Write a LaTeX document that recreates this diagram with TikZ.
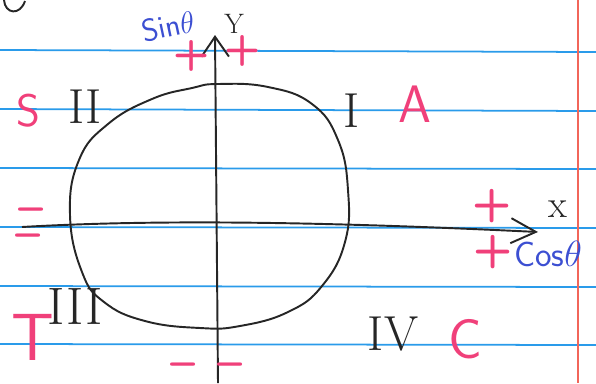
\documentclass[tikz,border=0pt]{standalone}
\usepackage{fontspec}
\usepackage{xcolor}
\usetikzlibrary{arrows.meta}

\definecolor{ruleblue}{HTML}{2A9BEA}
\definecolor{marginred}{HTML}{F2665A}
\definecolor{signpink}{HTML}{F0407A}
\definecolor{inkblue}{HTML}{3C4FD2}
\definecolor{pencil}{HTML}{262626}

\newcommand{\fs}[1]{\fontsize{#1}{#1}\selectfont}

\begin{document}
\begin{tikzpicture}[x=0.02cm,y=-0.02cm,
    sign/.style={text=signpink,font=\sffamily\bfseries},
    numeral/.style={text=pencil,inner sep=0pt},
    trig/.style={text=inkblue,font=\sffamily},
    pen/.style={draw=pencil,line width=1.1pt}]
\useasboundingbox (0,0) rectangle (596,383);

% Paper rules and margin
\foreach \ya/\yb in {50/52,109/111,168/169,227/228,286/287,344/345}
  \draw[ruleblue,line width=1pt] (0,\ya) -- (596,\yb);
\draw[marginred,line width=0.8pt] (578,0) -- (578,383);

% Tail of a letter from the line above
\draw[pen] (4,0) .. controls (5,14) and (20,16) .. (25,1);

% Axes
\coordinate (xstart) at (22,227);
\coordinate (xend) at (538,232);
\coordinate (ystart) at (218,383);
\coordinate (yend) at (215,35);
\draw[pen,-{Straight Barb[length=5mm,width=5mm]}] (xstart)
    .. controls (160,219) and (330,222) .. (xend);
\draw[pen,-{Straight Barb[length=4mm,width=5.5mm]}] (ystart) -- (yend);

% The unit circle (hand drawn, a bit squashed)
\draw[pen] plot[smooth cycle,tension=0.75] coordinates {
    (218,84) (268,87) (312,104) (338,140) (348,190) (345,242)
    (322,286) (288,312) (240,326) (200,328) (145,321) (104,302)
    (82,272) (70,215) (79,160) (108,124) (152,99) (192,88)};

% Axis names
\node[text=pencil,font=\fs{16pt}] (ylab) at (234,24) {Y};
\node[text=pencil,font=\fs{22pt}] (xlab) at (558,209) {x};
\node[trig,font=\sffamily\fs{18pt},rotate=12] (sinlab) at (168,26) {Sin$\theta$};
\node[trig,font=\sffamily\fs{20pt}] (coslab) at (548,254) {Cos$\theta$};

% Signs on the axes
\node[sign,font=\sffamily\bfseries\fs{24pt}] (yplusl) at (192,56) {+};
\node[sign,font=\sffamily\bfseries\fs{24pt}] (yplusr) at (243,51) {+};
\node[sign,font=\sffamily\bfseries\fs{26pt}] (xplusa) at (492,206) {+};
\node[sign,font=\sffamily\bfseries\fs{26pt}] (xplusb) at (493,252) {+};
\node[sign,font=\sffamily\bfseries\fs{26pt}] (xminusa) at (31,215) {--};
\node[sign,font=\sffamily\bfseries\fs{26pt}] (xminusb) at (28,241) {--};
\node[sign,font=\sffamily\bfseries\fs{26pt},inner sep=1pt] (yminusl) at (183,370) {--};
\node[sign,font=\sffamily\bfseries\fs{26pt},inner sep=1pt] (yminusr) at (230,370) {--};

% Quadrant numbers
\node[numeral,font=\fs{28pt}] (q2) at (85,107) {II};
\node[numeral,font=\fs{28pt}] (q1) at (352,111) {I};
\node[numeral,font=\fs{30pt}] (q3) at (75,306) {III};
\node[numeral,font=\fs{28pt}] (q4) at (393,334) {IV};

% All Students Take Calculus
\node[sign,font=\sffamily\fs{30pt}] (all) at (415,104) {A};
\node[sign,font=\sffamily\fs{26pt}] (sin) at (28,111) {S};
\node[sign,font=\sffamily\fs{38pt}] (tan) at (33,337) {T};
\node[sign,font=\sffamily\fs{32pt}] (cos) at (465,339) {C};
\end{tikzpicture}
\end{document}
